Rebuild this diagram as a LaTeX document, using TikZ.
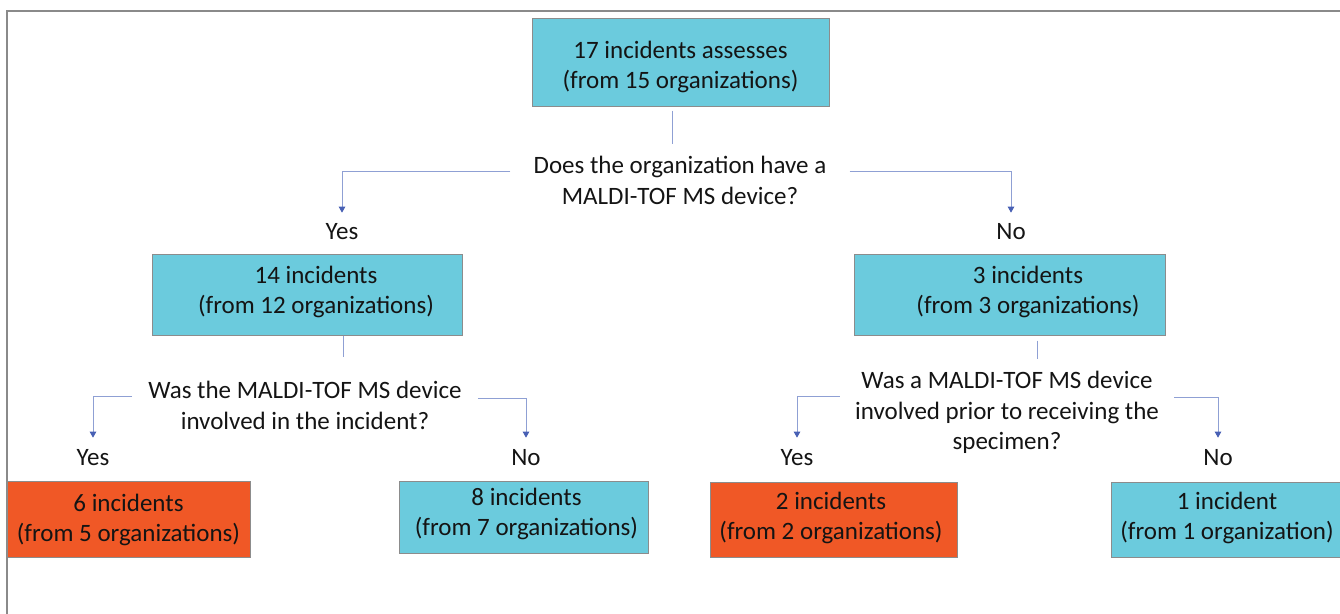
\documentclass[tikz,border=0pt]{standalone}
\usepackage{fontspec}
\setmainfont{Carlito}
\usetikzlibrary{arrows.meta}
\definecolor{boxcyan}{RGB}{107,203,221}
\definecolor{boxorange}{RGB}{240,88,38}
\definecolor{edgegray}{RGB}{140,140,140}
\definecolor{linkblue}{RGB}{143,160,212}
\definecolor{tipblue}{RGB}{72,96,180}
\definecolor{framegray}{RGB}{138,138,138}
\definecolor{inkblack}{RGB}{20,20,20}
\begin{document}
\begin{tikzpicture}[x=1pt,y=-1pt,
  font=\fontsize{25}{30.5}\selectfont,
  every node/.style={text=inkblack},
  box/.style={draw=edgegray, line width=1pt, inner sep=0pt},
  cyanbox/.style={box, fill=boxcyan},
  orangebox/.style={box, fill=boxorange},
  boxtext/.style={align=center, inner sep=0pt, text=inkblack},
  question/.style={align=center, inner ysep=0pt},
  answer/.style={inner sep=0pt},
  link/.style={draw=linkblue, line width=1pt},
  arrow/.style={link, -{Triangle[width=6.5pt,length=6pt,color=tipblue]}}
]
\useasboundingbox (0,0) rectangle (1340,613);

% outer frame (top and left edges)
\draw[framegray, line width=1.6pt] (7,614) -- (7,11) -- (1341,11);

% boxes
\node[cyanbox, minimum width=297pt, minimum height=88pt,
  label={[boxtext, yshift=-5pt]center:17 incidents assesses\\(from 15 organizations)}]
  (top) at (680.5,62) {};

\node[cyanbox, minimum width=310pt, minimum height=81pt,
  label={[boxtext, xshift=9pt, yshift=2.5pt]center:14 incidents\\(from 12 organizations)}]
  (b14) at (307,294.5) {};

\node[cyanbox, minimum width=311pt, minimum height=81pt,
  label={[boxtext, xshift=18.5pt, yshift=2.5pt]center:3 incidents\\(from 3 organizations)}]
  (b3) at (1009.5,294.5) {};

\node[orangebox, minimum width=243pt, minimum height=76pt,
  label={[boxtext, yshift=-1pt]center:6 incidents\\(from 5 organizations)}]
  (b6) at (128.5,519) {};

\node[cyanbox, minimum width=249pt, minimum height=72pt,
  label={[boxtext, xshift=3pt, yshift=3pt]center:8 incidents\\(from 7 organizations)}]
  (b8) at (523.5,517) {};

\node[orangebox, minimum width=247pt, minimum height=75pt,
  label={[boxtext, xshift=-2.5pt, yshift=1.5pt]center:2 incidents\\(from 2 organizations)}]
  (b2) at (833.5,519.5) {};

\node[cyanbox, minimum width=229pt, minimum height=75pt,
  label={[boxtext, xshift=1.5pt, yshift=1.5pt]center:1 incident\\(from 1 organization)}]
  (b1) at (1225.5,519.5) {};

% questions
\node[question, inner xsep=23pt] (q1) at (680,180.5)
  {Does the organization have a\\MALDI-TOF MS device?};
\node[question, inner xsep=16pt] (q2) at (305,405.5)
  {Was the MALDI-TOF MS device\\involved in the incident?};
\node[question, inner xsep=15pt] (q3) at (1007,412.5)
  {Was a MALDI-TOF MS device\\involved prior to receiving the\\specimen?};

% answers
\node[answer] (yes1) at (342,232) {Yes};
\node[answer] (no1) at (1011,232) {No};
\node[answer] (yes2) at (93,458) {Yes};
\node[answer] (no2) at (526,458) {No};
\node[answer] (yes3) at (797,458) {Yes};
\node[answer] (no3) at (1218,458) {No};

% stems from boxes to questions
\draw[link] ([xshift=-8.5pt,yshift=-4pt]top.south) -- ++(0,33);
\draw[link] ([xshift=36pt]b14.south) -- ++(0,21);
\draw[link] ([xshift=27.5pt,yshift=-5pt]b3.south) -- ++(0,18);

% branches
\draw[arrow] ([yshift=9.5pt]q1.west) -| ([yshift=11pt]yes1.north);
\draw[arrow] ([yshift=9.5pt]q1.east) -| ([yshift=11pt]no1.north);
\draw[arrow] ([yshift=9.5pt]q2.west) -| ([yshift=12pt]yes2.north);
\draw[arrow] ([yshift=7.5pt]q2.east) -| ([yshift=12pt]no2.north);
\draw[arrow] ([yshift=16pt]q3.west) -| ([yshift=12pt]yes3.north);
\draw[arrow] ([yshift=15pt]q3.east) -| ([yshift=12pt]no3.north);
\end{tikzpicture}
\end{document}
